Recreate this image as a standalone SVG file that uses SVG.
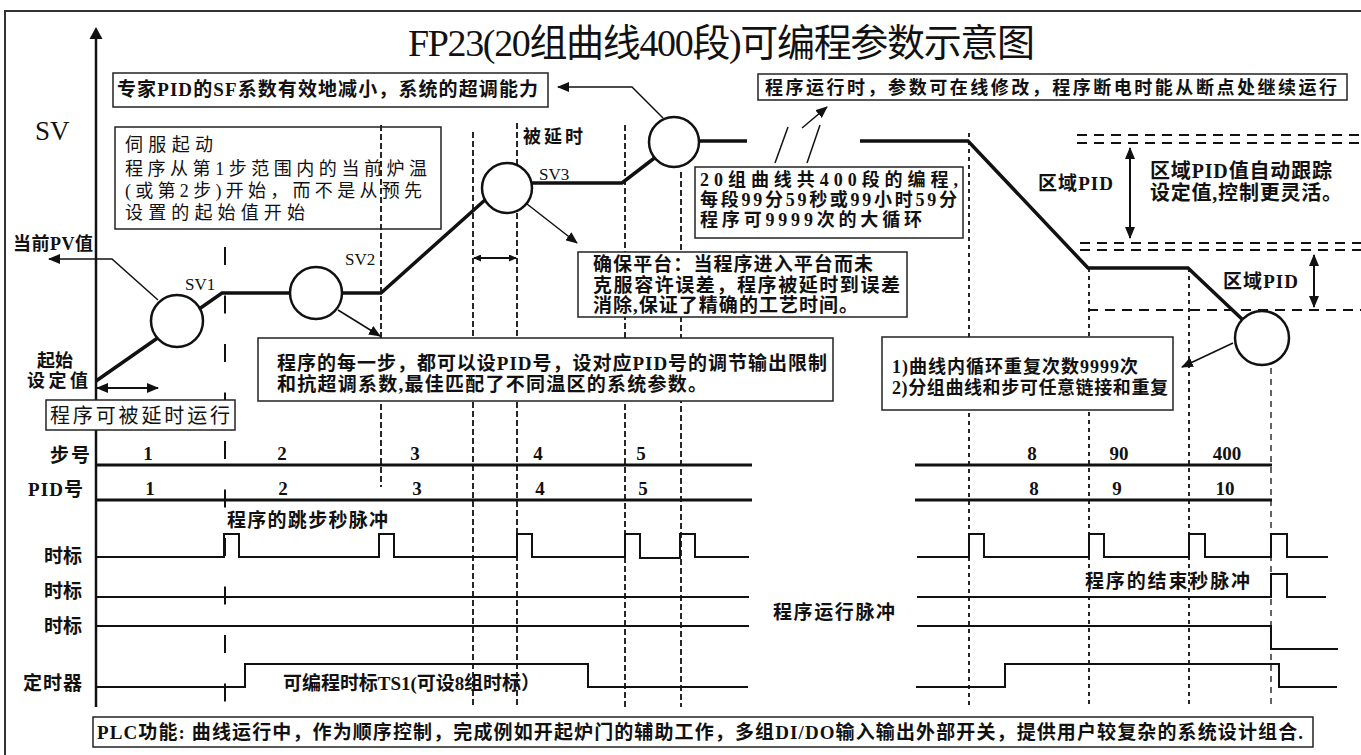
<svg xmlns="http://www.w3.org/2000/svg" width="1361" height="755" viewBox="0 0 1361 755">
<style>
.t{font-family:"Liberation Serif","Noto Sans CJK SC",serif;font-weight:bold;fill:#111}
.n{font-family:"Liberation Serif","Noto Sans CJK SC",serif;font-weight:normal;fill:#111}
.box{fill:#fff;stroke:#222;stroke-width:1.5}
.curve{fill:none;stroke:#111;stroke-width:3.5;stroke-linejoin:miter}
.circ{fill:#fff;stroke:#111;stroke-width:2.5}
.sig{fill:none;stroke:#111;stroke-width:2}
.row{fill:none;stroke:#111;stroke-width:3}
.dsh{fill:none;stroke:#111;stroke-width:1.8;stroke-dasharray:6 3}
.dot{fill:none;stroke:#111;stroke-width:1.8;stroke-dasharray:4 4}
.zone{fill:none;stroke:#111;stroke-width:2;stroke-dasharray:10 7}
.lead{fill:none;stroke:#111;stroke-width:1.5}
.arr{fill:none;stroke:#111;stroke-width:2}
</style>
<defs>
<marker id="ah" viewBox="0 0 12 10" refX="11" refY="5" markerWidth="12" markerHeight="10" markerUnits="userSpaceOnUse" orient="auto-start-reverse"><path d="M0,0 L12,5 L0,10 z" fill="#111"/></marker>
<marker id="ahs" viewBox="0 0 8 7" refX="7" refY="3.5" markerWidth="8" markerHeight="7" markerUnits="userSpaceOnUse" orient="auto-start-reverse"><path d="M0,0 L8,3.5 L0,7 z" fill="#111"/></marker>
</defs>
<rect x="0" y="0" width="1361" height="755" fill="#fff"/>
<path d="M5,760 V11 H1366" fill="none" stroke="#333" stroke-width="2"/>

<g id="title"><text class="n" x="408" y="56" font-size="38" textLength="627">FP23(20组曲线400段)可编程参数示意图</text></g>

<g id="axis">
<line x1="96" y1="36" x2="96" y2="707" stroke="#111" stroke-width="2.5"/>
<polygon points="96,27 102.5,39 89.5,39" fill="#111"/>
<text class="n" x="35" y="140" font-size="27">SV</text>
</g>

<g id="gridlines">
<line x1="225" y1="247" x2="225" y2="707" stroke="#111" stroke-width="2" stroke-dasharray="18 30.5"/>
<line class="dsh" x1="381" y1="125" x2="381" y2="487"/>
<line class="dsh" x1="473" y1="132" x2="473" y2="707"/>
<line class="dsh" x1="517" y1="123" x2="517" y2="707"/>
<line class="dsh" x1="625" y1="125" x2="625" y2="707"/>
<line class="dsh" x1="681" y1="172" x2="681" y2="707"/>
<line class="dot" x1="969" y1="133" x2="969" y2="707"/>
<line class="dot" x1="1089" y1="268" x2="1089" y2="707"/>
<line class="dot" x1="1189" y1="268" x2="1189" y2="707"/>
<line x1="1271" y1="368" x2="1271" y2="707" stroke="#111" stroke-width="1.3" stroke-dasharray="6 5"/>
<line class="zone" x1="1077" y1="135" x2="1361" y2="135"/>
<line class="zone" x1="1077" y1="143" x2="1361" y2="143"/>
<line class="zone" x1="1080" y1="243" x2="1361" y2="243"/>
<line class="zone" x1="1080" y1="250" x2="1361" y2="250"/>
<line class="zone" x1="1088" y1="310" x2="1361" y2="310"/>
</g>

<g id="curve">
<path class="curve" d="M96,381 L222,293 L381,293 L495,191 M507,183 L622,183 L674,143 M690,141 L747,141 M860,141 L968,141 L1088,268 L1188,268 L1262,338"/>
</g>

<g id="connectors">
<polyline class="lead" points="158,300 112,259 49,259" marker-end="url(#ah)"/>
<polyline class="lead" points="663,118 632,87 558,87" marker-end="url(#ah)"/>
<line class="lead" x1="338" y1="310" x2="380" y2="336" marker-end="url(#ah)"/>
<line class="lead" x1="527" y1="204" x2="577" y2="243" marker-end="url(#ah)"/>
<line class="lead" x1="1233" y1="343" x2="1182" y2="367" marker-end="url(#ah)"/>
<line class="lead" x1="775" y1="163" x2="788" y2="127"/>
<line class="lead" x1="807" y1="163" x2="820" y2="125"/>
<line class="lead" x1="802" y1="128" x2="827" y2="107" marker-end="url(#ah)"/>
<line class="arr" x1="1130" y1="148" x2="1130" y2="238" marker-start="url(#ah)" marker-end="url(#ah)"/>
<line class="arr" x1="1314" y1="255" x2="1314" y2="307" marker-start="url(#ah)" marker-end="url(#ah)"/>
<line class="arr" x1="97" y1="388" x2="158" y2="388" marker-start="url(#ah)" marker-end="url(#ah)"/>
<line class="arr" x1="474" y1="258" x2="516" y2="258" marker-start="url(#ahs)" marker-end="url(#ahs)"/>
</g>

<g id="c1"><circle class="circ" cx="177" cy="321" r="26"/></g>
<g id="c2"><circle class="circ" cx="316" cy="293" r="26"/></g>
<g id="c3"><circle class="circ" cx="507" cy="188" r="25"/></g>
<g id="c4"><circle class="circ" cx="674" cy="142" r="25"/></g>
<g id="c5"><circle class="circ" cx="1262" cy="338" r="27"/></g>

<g id="labels">
<text class="t" x="13" y="250" font-size="18" textLength="80">当前PV值</text>
<text class="t" x="37" y="367" font-size="18" textLength="36">起始</text>
<text class="t" x="27" y="387" font-size="18" textLength="61">设定值</text>
<text class="n" x="185" y="290" font-size="17">SV1</text>
<text class="n" x="345" y="265" font-size="17">SV2</text>
<text class="n" x="539" y="180" font-size="17">SV3</text>
<text class="t" x="523" y="143" font-size="18" textLength="60">被延时</text>
<text class="t" x="1038" y="190" font-size="19" textLength="75">区域PID</text>
<text class="t" x="1223" y="288" font-size="19" textLength="75">区域PID</text>
<text class="t" x="1150" y="178" font-size="20" textLength="182">区域PID值自动跟踪</text>
<text class="t" x="1150" y="200" font-size="20" textLength="192">设定值,控制更灵活。</text>
</g>

<g id="box-sf"><rect class="box" x="113" y="73" width="435" height="34"/><text class="t" x="117" y="96" font-size="19" textLength="421">专家PID的SF系数有效地减小，系统的超调能力</text></g>
<g id="box-run"><rect class="box" x="758" y="74" width="589" height="26"/><text class="t" x="765" y="94" font-size="18" textLength="572">程序运行时，参数可在线修改，程序断电时能从断点处继续运行</text></g>
<g id="box-servo"><rect x="115" y="127" width="326" height="102" fill="none" stroke="#222" stroke-width="1.5"/>
<text class="n" x="125" y="151" font-size="18" textLength="88">伺服起动</text>
<text class="n" x="125" y="175" font-size="18" textLength="302">程序从第1步范围内的当前炉温</text>
<text class="n" x="125" y="197" font-size="18" textLength="297">(或第2步)开始，而不是从预先</text>
<text class="n" x="125" y="219" font-size="18" textLength="180">设置的起始值开始</text></g>
<g id="box-20"><rect class="box" x="695" y="167" width="268" height="71"/>
<text class="t" x="700" y="186" font-size="18" textLength="258">20组曲线共400段的编程,</text>
<text class="t" x="700" y="206" font-size="18" textLength="257">每段99分59秒或99小时59分</text>
<text class="t" x="700" y="226" font-size="18" textLength="222">程序可9999次的大循环</text></g>
<g id="box-step"><rect class="box" x="258" y="338" width="575" height="63"/>
<text class="t" x="277" y="370" font-size="19" textLength="550">程序的每一步，都可以设PID号，设对应PID号的调节输出限制</text>
<text class="t" x="277" y="391" font-size="19" textLength="430">和抗超调系数,最佳匹配了不同温区的系统参数。</text></g>
<g id="box-plat"><rect class="box" x="578" y="252" width="329" height="65"/>
<text class="t" x="593" y="271" font-size="19" textLength="280">确保平台：当程序进入平台而未</text>
<text class="t" x="593" y="292" font-size="19" textLength="307">克服容许误差，程序被延时到误差</text>
<text class="t" x="593" y="312" font-size="19" textLength="265">消除,保证了精确的工艺时间。</text></g>
<g id="box-loop"><rect class="box" x="882" y="337" width="291" height="73"/>
<text class="t" x="892" y="373" font-size="18" textLength="246">1)曲线内循环重复次数9999次</text>
<text class="t" x="892" y="394" font-size="18" textLength="276">2)分组曲线和步可任意链接和重复</text></g>
<g id="box-delay"><rect class="box" x="46" y="400" width="189" height="30"/><text class="n" x="50" y="423" font-size="20" textLength="180">程序可被延时运行</text></g>

<g id="timing">
<text class="t" x="50" y="462" font-size="19" textLength="40">步号</text>
<text class="t" x="28" y="496" font-size="19" textLength="55">PID号</text>
<text class="t" x="44" y="563" font-size="19" textLength="38">时标</text>
<text class="t" x="44" y="598" font-size="19" textLength="38">时标</text>
<text class="t" x="44" y="633" font-size="19" textLength="38">时标</text>
<text class="t" x="23" y="690" font-size="19" textLength="59">定时器</text>
<path class="row" d="M96,465 H752 M915,465 H1272 M96,500 H752 M915,500 H1272"/>
<g class="t" font-size="19" text-anchor="middle">
<text x="148" y="460">1</text><text x="282" y="460">2</text><text x="415" y="460">3</text><text x="538" y="460">4</text><text x="641" y="460">5</text><text x="1032" y="460">8</text><text x="1119" y="460">90</text><text x="1227" y="460">400</text>
<text x="150" y="495">1</text><text x="283" y="495">2</text><text x="417" y="495">3</text><text x="540" y="495">4</text><text x="643" y="495">5</text><text x="1034" y="495">8</text><text x="1117" y="495">9</text><text x="1225" y="495">10</text>
</g>
<path class="sig" d="M96,557 H224 V534 H239 V557 H379 V534 H394 V557 H517 V534 H532 V557 H625 V534 H640 V558 H680 V534 H695 V557 H749"/>
<path class="sig" d="M917,557 H969 V534 H984 V557 H1089 V534 H1104 V557 H1189 V534 H1205 V557 H1271 V534 H1287 V557 H1328"/>
<path class="sig" d="M96,597 H749 M917,597 H1271 V574 H1287 V597 H1326"/>
<path class="sig" d="M96,626 H749 M917,626 H1271 V649 H1338"/>
<path class="sig" d="M96,687 H245 V664 H588 V687 H748 M916,687 H1005 V664 H1279 V687 H1337"/>
<text class="t" x="227" y="527" font-size="19" textLength="161">程序的跳步秒脉冲</text>
<text class="t" x="1085" y="588" font-size="19" textLength="165">程序的结束秒脉冲</text>
<text class="t" x="773" y="619" font-size="19" textLength="122">程序运行脉冲</text>
<text class="t" x="283" y="690" font-size="19" textLength="257">可编程时标TS1(可设8组时标）</text>
</g>

<g id="box-plc"><rect class="box" x="93" y="717" width="1220" height="30"/><text class="t" x="97" y="739" font-size="19" textLength="1206">PLC功能: 曲线运行中，作为顺序控制，完成例如开起炉门的辅助工作，多组DI/DO输入输出外部开关，提供用户较复杂的系统设计组合.</text></g>
</svg>
